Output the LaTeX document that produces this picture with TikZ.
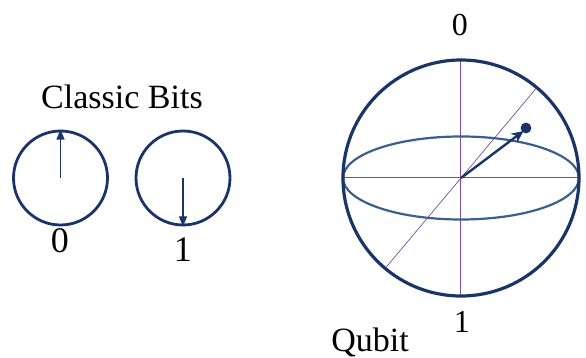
\documentclass[tikz,border=0pt]{standalone}
\usepackage{fontspec}
\setmainfont{Liberation Serif}
\usetikzlibrary{arrows.meta}
\definecolor{navy}{HTML}{1B3468}
\definecolor{axispurple}{HTML}{7A4C9E}
\definecolor{equator}{HTML}{3B5E8C}
\tikzset{
  bitcircle/.style={circle, draw=navy, line width=1.4pt, minimum size=47pt, inner sep=0pt},
  bitarrow/.style={navy, line width=0.6pt, -{Triangle[length=5pt,width=4pt]}},
  label/.style={font=\fontsize{17}{20}\selectfont},
  digit/.style={font=\fontsize{18}{21}\selectfont},
}
\begin{document}
\begin{tikzpicture}[x=0.5pt, y=-0.5pt]
  \useasboundingbox (0,0) rectangle (586,358);

  % classic bits
  \node[label] (title) at (122,97) {Classic Bits};
  \node[bitcircle] (zero) at (60.5,178) {};
  \node[bitcircle] (one) at (183,178) {};
  \draw[bitarrow] (zero.center) -- (zero.north);
  \draw[bitarrow] (one.center) -- (one.south);
  \node[digit] (zerolabel) at (60,241) {0};
  \node[digit] (onelabel) at (183,250) {1};

  % qubit
  \coordinate (bloch) at (461,178);
  \draw[axispurple, line width=0.5pt] (bloch) ++(-59pt,0) -- ++(118pt,0);
  \draw[axispurple, line width=0.5pt] (bloch) ++(0,-59pt) -- ++(0,118pt);
  \draw[axispurple, line width=0.35pt] (bloch) ++(230:58pt) -- ++(50:116pt);
  \draw[equator, line width=1.1pt] (bloch) ellipse [x radius=59pt, y radius=20.75pt];
  \draw[navy, line width=1.6pt] (bloch) circle (59pt);
  \coordinate (state) at (526,128);
  \draw[navy, line width=1.2pt, -{Stealth[length=6pt,width=5.5pt]}] (bloch) -- (523.5,131);
  \fill[navy] (state) circle (2.7pt);
  \node[digit, font=\fontsize{16}{19}\selectfont] (northlabel) at (460,25) {0};
  \node[digit, font=\fontsize{16}{19}\selectfont] (southlabel) at (462,322) {1};
  \node[label] (qubit) at (370,342) {Qubit};
\end{tikzpicture}
\end{document}
